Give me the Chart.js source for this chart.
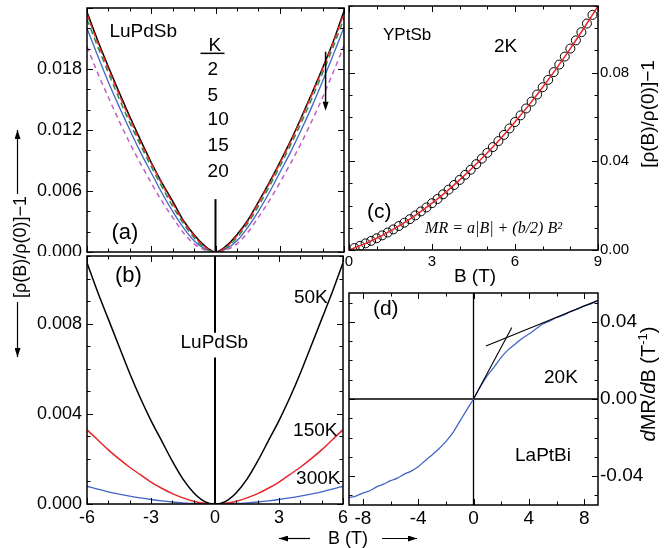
<!DOCTYPE html>
<html>
<head>
<meta charset="utf-8">
<script src="https://cdn.jsdelivr.net/npm/chart.js@4.4.1/dist/chart.umd.min.js"></script>
<style>
body { margin: 0; background: #fff; }
#wrap { position: relative; width: 664px; height: 548px; overflow: hidden; }
canvas { position: absolute; }
svg { position: absolute; left: 0; top: 0; pointer-events: none; }
</style>
</head>
<body>
<div id="wrap">
<canvas id="ca" width="350" height="256" style="left:0;top:0;width:350px;height:256px"></canvas>
<canvas id="cb" width="350" height="276" style="left:0;top:252px;width:350px;height:276px"></canvas>
<canvas id="cc" width="324" height="285" style="left:340px;top:0;width:324px;height:285px"></canvas>
<canvas id="cd" width="324" height="263" style="left:340px;top:285px;width:324px;height:263px"></canvas>
<svg width="664" height="548" font-family="'Liberation Sans', Arial, sans-serif">
  <defs>
    <marker id="ah" markerWidth="9" markerHeight="6" refX="9" refY="3" orient="auto" markerUnits="userSpaceOnUse">
      <path d="M0,0 L9,3 L0,6 z" fill="#000"/>
    </marker>
  </defs>
  <text transform="translate(26,247) rotate(-90)" text-anchor="middle" font-size="18">[ρ(B)/ρ(0)]−1</text>
  <line x1="17.5" y1="194" x2="17.5" y2="130" stroke="#000" stroke-width="1.2" marker-end="url(#ah)"/>
  <line x1="17.5" y1="302" x2="17.5" y2="357" stroke="#000" stroke-width="1.2" marker-end="url(#ah)"/>
  <text x="348" y="544" text-anchor="middle" font-size="18">B (T)</text>
  <line x1="310" y1="538.5" x2="279" y2="538.5" stroke="#000" stroke-width="1.2" marker-end="url(#ah)"/>
  <line x1="382" y1="538.5" x2="417" y2="538.5" stroke="#000" stroke-width="1.2" marker-end="url(#ah)"/>
  <text x="475" y="282" text-anchor="middle" font-size="19">B (T)</text>
  <text transform="translate(654,114) rotate(-90)" text-anchor="middle" font-size="19">[ρ(B)/ρ(0)]−1</text>
  <text transform="translate(655,384) rotate(-90)" text-anchor="middle" font-size="20"><tspan font-style="italic">d</tspan>MR/<tspan font-style="italic">d</tspan>B (T<tspan dy="-8" font-size="13">-1</tspan><tspan dy="8">)</tspan></text>
</svg>
</div>
<script>
const FONT = "'Liberation Sans', Arial, sans-serif";

// panels (a) and (b): field sweep, T
const abB = [-6, -5.5, -5, -4.5, -4, -3.5, -3, -2.5, -2, -1.5, -1, -0.5, 0, 0.5, 1, 1.5, 2, 2.5, 3, 3.5, 4, 4.5, 5, 5.5, 6];
const a2K = [0.0236, 0.0208, 0.0182, 0.0157, 0.0133, 0.0110, 0.0088, 0.0068, 0.0050, 0.0031, 0.0017, 0.0006, 0, 0.0006, 0.0017, 0.0031, 0.0049, 0.0068, 0.0088, 0.0109, 0.0132, 0.0156, 0.0181, 0.0207, 0.0237];
const a5K = [0.0234, 0.0206, 0.0180, 0.0155, 0.0131, 0.0108, 0.0087, 0.0067, 0.0048, 0.0030, 0.0016, 0.0005, 0, 0.0005, 0.0016, 0.0030, 0.0048, 0.0067, 0.0087, 0.0108, 0.0131, 0.0155, 0.0180, 0.0206, 0.0235];
const a10K = [0.0229, 0.0202, 0.0176, 0.0151, 0.0127, 0.0105, 0.0084, 0.0064, 0.0045, 0.0028, 0.0014, 0.0004, 0, 0.0004, 0.0014, 0.0028, 0.0045, 0.0064, 0.0084, 0.0105, 0.0127, 0.0151, 0.0176, 0.0202, 0.0230];
const a15K = [0.0220, 0.0193, 0.0167, 0.0143, 0.0120, 0.0098, 0.0078, 0.0058, 0.0040, 0.0024, 0.0011, 0.0003, 0, 0.0003, 0.0011, 0.0024, 0.0040, 0.0058, 0.0078, 0.0098, 0.0120, 0.0143, 0.0168, 0.0194, 0.0221];
const a20K = [0.0202, 0.0176, 0.0152, 0.0129, 0.0107, 0.0087, 0.0068, 0.0050, 0.0034, 0.0019, 0.0008, 0.0002, 0, 0.0002, 0.0008, 0.0019, 0.0034, 0.0050, 0.0068, 0.0087, 0.0107, 0.0129, 0.0152, 0.0177, 0.0203];
const b50K = [0.0107, 0.0094, 0.0082, 0.0070, 0.0058, 0.0047, 0.0037, 0.0028, 0.0019, 0.0011, 0.0005, 0.00012, 0, 0.00012, 0.0005, 0.0011, 0.0019, 0.0028, 0.0037, 0.0047, 0.0058, 0.0070, 0.0082, 0.0094, 0.0107];
const b150K = [0.00329, 0.00285, 0.0024, 0.0020, 0.00163, 0.0013, 0.00097, 0.0007, 0.00046, 0.00027, 0.00012, 0.00003, 0, 0.00003, 0.00012, 0.00027, 0.00046, 0.0007, 0.00097, 0.0013, 0.00163, 0.0020, 0.0024, 0.00285, 0.0033];
const b300K = [0.00079, 0.00066, 0.00054, 0.00044, 0.00035, 0.00027, 0.0002, 0.00014, 0.00009, 0.00005, 0.00002, 0.000005, 0, 0.000005, 0.00002, 0.00005, 0.00009, 0.00014, 0.0002, 0.00027, 0.00035, 0.00044, 0.00054, 0.00066, 0.00079];

// panel (c): YPtSb 2K, data and fit
const cB = [0.2, 0.4, 0.6, 0.8, 1.0, 1.2, 1.4, 1.6, 1.8, 2.0, 2.2, 2.4, 2.6, 2.8, 3.0, 3.2, 3.4, 3.6, 3.8, 4.0, 4.2, 4.4, 4.6, 4.8, 5.0, 5.2, 5.4, 5.6, 5.8, 6.0, 6.2, 6.4, 6.6, 6.8, 7.0, 7.2, 7.4, 7.6, 7.8, 8.0, 8.2, 8.4, 8.6, 8.8];
const cMR = [0.0009, 0.0019, 0.0030, 0.0041, 0.0053, 0.0066, 0.0079, 0.0093, 0.0108, 0.0123, 0.0139, 0.0156, 0.0174, 0.0192, 0.0211, 0.0230, 0.0251, 0.0272, 0.0293, 0.0316, 0.0339, 0.0362, 0.0387, 0.0412, 0.0438, 0.0464, 0.0491, 0.0519, 0.0548, 0.0577, 0.0607, 0.0638, 0.0669, 0.0701, 0.0734, 0.0767, 0.0802, 0.0836, 0.0872, 0.0908, 0.0945, 0.0982, 0.1021, 0.1060];
const cFitB = [0, 0.5, 1, 1.5, 2, 2.5, 3, 3.5, 4, 4.5, 5, 5.5, 6, 6.5, 7, 7.5, 8, 8.5, 9];
const cFit = [0, 0.0024, 0.0053, 0.0086, 0.0123, 0.0165, 0.0211, 0.0261, 0.0316, 0.0375, 0.0438, 0.0505, 0.0577, 0.0653, 0.0734, 0.0819, 0.0908, 0.1002, 0.1099];

// panel (d): LaPtBi 20K, dMR/dB
const dB = [-9, -8.5, -8, -7.5, -7, -6.5, -6, -5.5, -5, -4.5, -4, -3.5, -3, -2.5, -2, -1.5, -1, -0.5, 0, 0.5, 1, 1.5, 2, 2.5, 3, 3.5, 4, 4.5, 5, 5.5, 6, 6.5, 7, 7.5, 8, 8.5, 9];
const dDeriv = [-0.0512, -0.0504, -0.0488, -0.0476, -0.0456, -0.0442, -0.0424, -0.0411, -0.0390, -0.0374, -0.0352, -0.0320, -0.0290, -0.0258, -0.0221, -0.0176, -0.0117, -0.0058, 0, 0.0064, 0.0121, 0.0167, 0.0216, 0.0255, 0.0284, 0.0314, 0.0337, 0.0363, 0.0389, 0.0404, 0.0423, 0.0435, 0.0453, 0.0466, 0.0483, 0.0494, 0.0511];
const dLowB = [0, 2.77];
const dLow = [0, 0.0371];
const dHighB = [0.9, 9.0];
const dHigh = [0.0275, 0.0512];

// tick labels
const abXTicks = [-6, -3, 0, 3, 6];
const aYTicks = [0, 0.006, 0.012, 0.018];
const bYTicks = [0, 0.004, 0.008];
const cXTicks = [0, 3, 6, 9];
const cYTicks = [0, 0.04, 0.08];
const dXTicks = [-8, -4, 0, 4, 8];
const dYTicks = [-0.04, 0, 0.04];

const RED = '#e5262a', GREEN = '#2e8b4a', BLUE = '#4166c6', MAG = '#c35ec4';

const pts = (xs, ys) => xs.map((x, i) => ({ x: x, y: ys[i] }));
const line = (xs, ys, color, width, dash) => ({
    data: pts(xs, ys), showLine: true, borderColor: color, borderWidth: width,
    borderDash: dash || [], pointRadius: 0, cubicInterpolationMode: 'monotone'
});

// frame, inside ticks and in-plot notes for each panel
const deco = {
    ca: { xMinor: 1, xMajor: 3, yMinor: 0.002, yMajor: 0.006,
        notes: [
            { t: 'LuPdSb', x: -4.95, y: 0.0217 },
            { t: 'K', x: -0.33, y: 0.0203 },
            { t: '2', x: -0.37, y: 0.0179 },
            { t: '5', x: -0.37, y: 0.01534 },
            { t: '10', x: -0.37, y: 0.01298 },
            { t: '15', x: -0.37, y: 0.01042 },
            { t: '20', x: -0.37, y: 0.00787 },
            { t: '(a)', x: -4.86, y: 0.0019, size: 22 }
        ],
        lines: [
            { x1: -0.70, y1: 0.01954, x2: 0.42, y2: 0.01954 },
            { x1: 5.14, y1: 0.0197, x2: 5.14, y2: 0.0139, arrow: true }
        ] },
    cb: { xMinor: 1, xMajor: 3, yMinor: 0.001, yMajor: 0.004,
        notes: [
            { t: '(b)', x: -4.69, y: 0.0101, size: 22 },
            { t: '50K', x: 3.70, y: 0.00916 },
            { t: '150K', x: 3.66, y: 0.00324 },
            { t: '300K', x: 3.80, y: 0.00111 },
            { t: 'LuPdSb', x: -0.03, y: 0.00716, align: 'center' }
        ] },
    cc: { xMinor: 1, xMajor: 3, yMinor: 0.01, yMajor: 0.04,
        notes: [
            { t: 'YPtSb', x: 1.23, y: 0.0969, size: 17 },
            { t: '2K', x: 5.24, y: 0.0915 },
            { t: '(c)', x: 0.65, y: 0.0171, size: 21 },
            { t: 'MR = a|B| + (b/2) B²', x: 2.75, y: 0.0095, size: 16, serif: true }
        ] },
    cd: { xMinor: 2, xMajor: 4, yMinor: 0.01, yMajor: 0.04,
        notes: [
            { t: '(d)', x: -7.27, y: 0.0466, size: 21 },
            { t: '20K', x: 5.10, y: 0.0109 },
            { t: 'LaPtBi', x: 3.0, y: -0.0295 }
        ] }
};

const frame = {
    id: 'frame',
    afterDatasetsDraw(chart) {
        const o = deco[chart.canvas.id];
        const ctx = chart.ctx, a = chart.chartArea, x = chart.scales.x, y = chart.scales.y;
        ctx.save();
        ctx.strokeStyle = '#000';
        ctx.fillStyle = '#000';
        ctx.lineWidth = 1;
        const tick = (scale, minor, major, horiz) => {
            for (let k = Math.ceil(scale.min / minor - 1e-6); k * minor <= scale.max + 1e-9; k++) {
                const v = k * minor;
                const len = Math.abs(v / major - Math.round(v / major)) < 1e-6 ? 6 : 3.5;
                const p = Math.round(scale.getPixelForValue(v)) + 0.5;
                ctx.beginPath();
                if (horiz) {
                    ctx.moveTo(p, a.bottom); ctx.lineTo(p, a.bottom - len);
                    ctx.moveTo(p, a.top); ctx.lineTo(p, a.top + len);
                } else {
                    ctx.moveTo(a.left, p); ctx.lineTo(a.left + len, p);
                    ctx.moveTo(a.right, p); ctx.lineTo(a.right - len, p);
                }
                ctx.stroke();
            }
        };
        tick(x, o.xMinor, o.xMajor, true);
        tick(y, o.yMinor, o.yMajor, false);
        ctx.lineWidth = 1.5;
        ctx.strokeRect(a.left, a.top, a.right - a.left, a.bottom - a.top);

        (o.lines || []).forEach(l => {
            const x1 = x.getPixelForValue(l.x1), y1 = y.getPixelForValue(l.y1);
            const x2 = x.getPixelForValue(l.x2), y2 = y.getPixelForValue(l.y2);
            ctx.lineWidth = 1.5;
            ctx.beginPath();
            ctx.moveTo(x1, y1);
            ctx.lineTo(x2, l.arrow ? y2 - 7 : y2);
            ctx.stroke();
            if (l.arrow) {
                ctx.beginPath();
                ctx.moveTo(x2, y2);
                ctx.lineTo(x2 - 3, y2 - 9);
                ctx.lineTo(x2 + 3, y2 - 9);
                ctx.closePath();
                ctx.fill();
            }
        });

        o.notes.forEach(n => {
            const size = n.size || 19;
            ctx.font = n.serif ? `italic ${size}px 'Liberation Serif', 'Times New Roman', serif` : `${size}px ${FONT}`;
            ctx.textAlign = n.align || 'left';
            ctx.textBaseline = 'middle';
            ctx.fillText(n.t, x.getPixelForValue(n.x), y.getPixelForValue(n.y));
        });
        ctx.restore();
    }
};

function axis(a, position) {
    return {
        type: 'linear', position: position, min: a.min, max: a.max,
        grid: { display: false, drawTicks: false },
        border: { display: false },
        ticks: {
            display: !!a.labels, autoSkip: false, padding: a.pad || 0, color: '#000',
            font: { family: FONT, size: a.size || 18 },
            callback: v => a.fmt(v)
        },
        afterBuildTicks: s => { s.ticks = (a.labels || []).map(v => ({ value: v })); },
        afterFit: s => {
            if (position === 'bottom') s.height = a.space; else s.width = a.space;
            s.paddingTop = 0; s.paddingBottom = 0; s.paddingLeft = 0; s.paddingRight = 0;
        }
    };
}

function panel(id, pad, xa, ya, yPos, datasets) {
    new Chart(document.getElementById(id), {
        type: 'scatter',
        data: { datasets: datasets },
        options: {
            responsive: false, animation: false, devicePixelRatio: 1,
            layout: { padding: pad },
            plugins: { legend: { display: false }, tooltip: { enabled: false } },
            scales: { x: axis(xa, 'bottom'), y: axis(ya, yPos) }
        },
        plugins: [frame]
    });
}

const f3 = v => v.toFixed(3);
const f2 = v => v.toFixed(2);
const f0 = v => String(v);

panel('ca', { top: 8, right: 6, left: 0, bottom: 0 },
    { min: -6, max: 6, labels: null, space: 4 },
    { min: 0, max: 0.024, labels: aYTicks, fmt: f3, pad: 5, size: 18, space: 87 }, 'left',
    [
        line(abB, a5K, RED, 1.5, [6, 3]),
        line(abB, a10K, GREEN, 1.5, [6, 4]),
        line(abB, a20K, MAG, 1.5, [5, 4]),
        line(abB, a2K, '#000', 1.5),
        line(abB, a15K, BLUE, 1.3),
        line([0, 0], [0, 0.0052], '#000', 2)
    ]);

panel('cb', { top: 4, right: 7, left: 0, bottom: 0 },
    { min: -6, max: 6, labels: abXTicks, fmt: f0, pad: 3, size: 18, space: 24 },
    { min: 0, max: 0.011, labels: bYTicks, fmt: f3, pad: 5, size: 18, space: 87 }, 'left',
    [
        line(abB, b50K, '#000', 1.5),
        line(abB, b150K, RED, 1.5),
        line(abB, b300K, BLUE, 1.4),
        line([0, 0], [0, 0.0065], '#000', 2),
        line([0, 0], [0.0076, 0.011], '#000', 2)
    ]);

panel('cc', { top: 6, left: 9, right: 0, bottom: 0 },
    { min: 0, max: 9, labels: cXTicks, fmt: f0, pad: 3, size: 15, space: 35 },
    { min: 0, max: 0.11, labels: cYTicks, fmt: f2, pad: 2, size: 15, space: 66 }, 'right',
    [
        line(cFitB, cFit, RED, 1.5),
        { data: pts(cB, cMR), showLine: false, pointRadius: 4.5, pointBorderWidth: 1,
          pointBorderColor: '#000', pointBackgroundColor: 'rgba(0,0,0,0)' }
    ]);

panel('cd', { top: 8, left: 9, right: 0, bottom: 0 },
    { min: -9, max: 9, labels: dXTicks, fmt: f0, pad: 2, size: 19, space: 43 },
    { min: -0.055, max: 0.055, labels: dYTicks, fmt: f2, pad: 2, size: 19, space: 66 }, 'right',
    [
        line(dLowB, dLow, '#000', 1.1),
        line(dHighB, dHigh, '#000', 1.1),
        line(dB, dDeriv, BLUE, 1.3),
        line([-9, 9], [0, 0], '#000', 1.3),
        line([0, 0], [-0.055, 0.055], '#000', 1.3)
    ]);
</script>
</body>
</html>
